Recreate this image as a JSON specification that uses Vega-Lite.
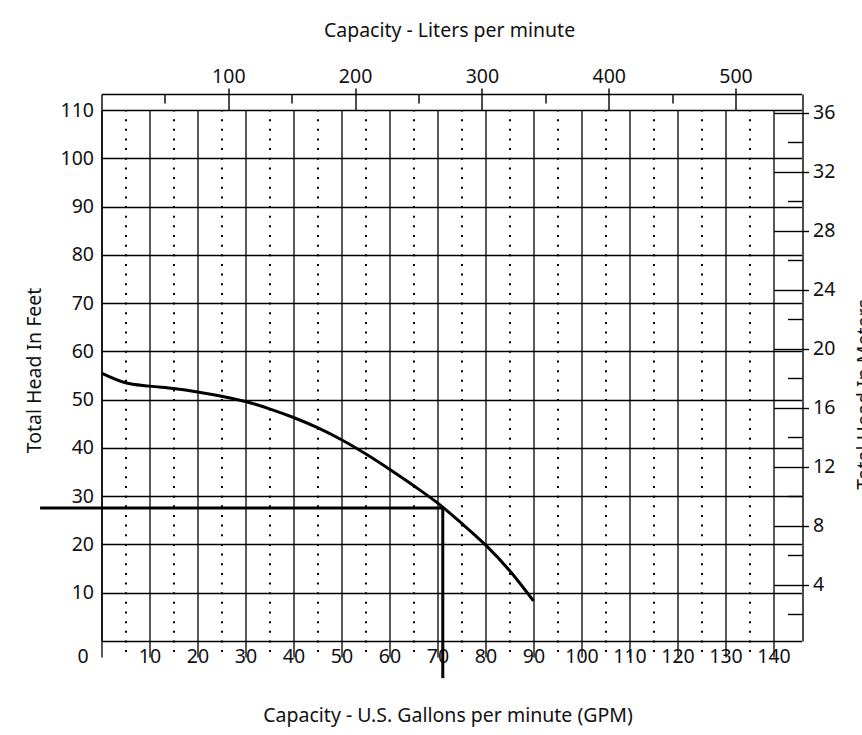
{
  "$schema": "https://vega.github.io/schema/vega-lite/v6.json",
  "width": 672,
  "height": 531,
  "autosize": {"type": "none"},
  "padding": {"left": 101.5, "top": 110, "right": 88.5, "bottom": 94},
  "config": {
    "view": {"stroke": null},
    "font": "Noto Sans",
    "axis": {
      "labelFont": "Noto Sans",
      "titleFont": "Noto Sans",
      "labelFontSize": 19.5,
      "titleFontSize": 19.5,
      "titleFontWeight": "normal",
      "labelColor": "#111111",
      "titleColor": "#111111",
      "domainColor": "#000000",
      "tickColor": "#000000",
      "gridColor": "#000000",
      "gridOpacity": 1,
      "domainWidth": 1.4,
      "tickWidth": 1.4,
      "labelOverlap": false,
      "labelFlush": false,
      "labelBound": false
    }
  },
  "datasets": {
    "curve": [
      {"gpm": 0, "ft": 55.5},
      {"gpm": 5, "ft": 53.5},
      {"gpm": 10, "ft": 52.8},
      {"gpm": 15, "ft": 52.3},
      {"gpm": 20, "ft": 51.6},
      {"gpm": 25, "ft": 50.7},
      {"gpm": 30, "ft": 49.6},
      {"gpm": 35, "ft": 48.1},
      {"gpm": 40, "ft": 46.3},
      {"gpm": 45, "ft": 44.2},
      {"gpm": 50, "ft": 41.7},
      {"gpm": 55, "ft": 38.8},
      {"gpm": 60, "ft": 35.6},
      {"gpm": 65, "ft": 32.2},
      {"gpm": 70, "ft": 28.6},
      {"gpm": 75, "ft": 24.4},
      {"gpm": 80, "ft": 19.9},
      {"gpm": 85, "ft": 14.6},
      {"gpm": 90, "ft": 8.3}
    ],
    "operating": [
      {"gpm": -12.8, "gpm2": 71.1, "ft": 27.55, "ft2": 27.55},
      {"gpm": 71.1, "gpm2": 71.1, "ft": 27.55, "ft2": -7.7}
    ],
    "metric": [
      {"lpm": 269, "m": 8.4}
    ]
  },
  "resolve": {"scale": {"x": "independent", "y": "independent"}},
  "layer": [
    {
      "encoding": {
        "x": {
          "field": "gpm",
          "type": "quantitative",
          "scale": {"domain": [0, 145.833], "range": [0, 700], "nice": false, "zero": false},
          "axis": {
            "orient": "bottom",
            "values": [0, 5, 10, 15, 20, 25, 30, 35, 40, 45, 50, 55, 60, 65, 70, 75, 80, 85, 90, 95, 100, 105, 110, 115, 120, 125, 130, 135, 140],
            "labelExpr": "datum.value % 10 == 0 ? datum.label : ''",
            "ticks": false,
            "domain": true,
            "grid": true,
            "gridWidth": {"condition": {"test": "datum.value % 10 != 0", "value": 2}, "value": 1.3},
            "gridDash": {"condition": {"test": "datum.value % 10 != 0", "value": [2, 7.654]}, "value": []},
            "gridDashOffset": 1,
            "labelOffset": {"condition": {"test": "datum.value == 0", "value": -19}, "value": 0},
            "labelPadding": 6,
            "title": "Capacity - U.S. Gallons per minute (GPM)",
            "titleX": 346,
            "titleY": 80,
            "titleBaseline": "alphabetic",
            "titleAlign": "center"
          }
        },
        "y": {
          "field": "ft",
          "type": "quantitative",
          "scale": {"domain": [0, 113.315], "range": [531, -16], "nice": false, "zero": false},
          "axis": {
            "orient": "left",
            "values": [10, 20, 30, 40, 50, 60, 70, 80, 90, 100, 110],
            "ticks": false,
            "domain": true,
            "grid": true,
            "gridWidth": 1.3,
            "labelPadding": 8,
            "title": "Total Head In Feet",
            "titleAngle": 270,
            "titleX": -61,
            "titleY": 260,
            "titleBaseline": "alphabetic",
            "titleAlign": "center"
          }
        }
      },
      "layer": [
        {
          "data": {"name": "curve"},
          "mark": {"type": "line", "color": "#000000", "strokeWidth": 3, "interpolate": "monotone"}
        },
        {
          "data": {"name": "operating"},
          "mark": {"type": "rule", "color": "#000000", "strokeWidth": 3},
          "encoding": {
            "x2": {"field": "gpm2"},
            "y2": {"field": "ft2"}
          }
        }
      ]
    },
    {
      "data": {"name": "metric"},
      "mark": {"type": "point", "opacity": 0},
      "encoding": {
        "x": {
          "field": "lpm",
          "type": "quantitative",
          "scale": {"domain": [0, 552.04], "range": [0, 700], "nice": false, "zero": false},
          "axis": {
            "orient": "top",
            "offset": 16,
            "values": [50, 100, 150, 200, 250, 300, 350, 400, 450, 500],
            "labelExpr": "datum.value % 100 == 0 ? datum.label : ''",
            "tickSize": {"condition": {"test": "datum.value % 100 == 0", "value": 6}, "value": -9},
            "grid": false,
            "domain": true,
            "labelBaseline": "alphabetic",
            "labelPadding": 6,
            "title": "Capacity - Liters per minute",
            "titleX": 347.5,
            "titleY": -58,
            "titleBaseline": "alphabetic",
            "titleAlign": "center"
          }
        },
        "y": {
          "field": "m",
          "type": "quantitative",
          "scale": {"domain": [0.203, 37.288], "range": [531, -16], "nice": false, "zero": false},
          "axis": {
            "orient": "right",
            "offset": 29,
            "values": [2, 4, 6, 8, 10, 12, 14, 16, 18, 20, 22, 24, 26, 28, 30, 32, 34, 36],
            "labelExpr": "datum.value % 4 == 0 ? datum.label : ''",
            "tickSize": {"condition": {"test": "datum.value % 4 == 0", "value": 6}, "value": -15},
            "grid": false,
            "domain": true,
            "labelPadding": 4,
            "title": "Total Head In Meters",
            "titleAngle": 270,
            "titleX": 68,
            "titleY": 284,
            "titleBaseline": "alphabetic",
            "titleAlign": "center"
          }
        }
      }
    },
    {
      "data": {"name": "metric"},
      "mark": {"type": "point", "opacity": 0},
      "encoding": {
        "x": {
          "field": "lpm",
          "type": "quantitative",
          "scale": {"domain": [0, 552.04], "range": [0, 700], "nice": false, "zero": false},
          "axis": {
            "orient": "top",
            "offset": 0,
            "values": [100, 200, 300, 400, 500],
            "labels": false,
            "domain": false,
            "grid": false,
            "tickSize": 16,
            "title": null
          }
        },
        "y": {
          "field": "m",
          "type": "quantitative",
          "scale": {"domain": [0.203, 37.288], "range": [531, -16], "nice": false, "zero": false},
          "axis": {
            "orient": "right",
            "offset": 0,
            "values": [4, 8, 12, 16, 20, 24, 28, 32, 36],
            "labels": false,
            "domain": false,
            "grid": false,
            "tickSize": 29,
            "title": null
          }
        }
      }
    }
  ]
}
